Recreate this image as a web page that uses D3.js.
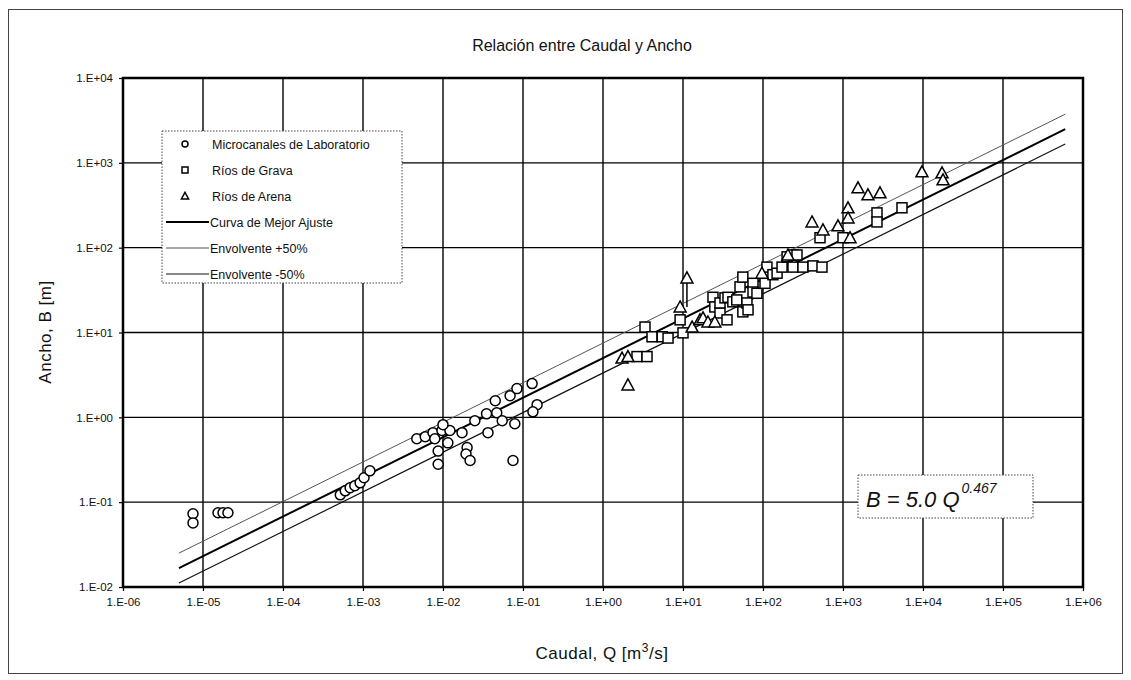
<!DOCTYPE html>
<html>
<head>
<meta charset="utf-8">
<script src="https://cdn.jsdelivr.net/npm/d3@7"></script>
<style>
  body { margin: 0; background: #fff; }
  svg { display: block; font-family: "Liberation Sans", Arial, sans-serif; }
</style>
</head>
<body>
<div id="chart"></div>
<script>
// tick values for both log axes
const xTicks = [1e-6, 1e-5, 1e-4, 1e-3, 1e-2, 1e-1, 1e0, 1e1, 1e2, 1e3, 1e4, 1e5, 1e6];
const yTicks = [1e-2, 1e-1, 1e0, 1e1, 1e2, 1e3, 1e4];

// Microcanales de Laboratorio [Q, B]
const micro = [
  [7.5e-6, 0.073], [7.5e-6, 0.057], [1.54e-5, 0.075], [1.78e-5, 0.075], [2.05e-5, 0.075],
  [5.2e-4, 0.122], [6.0e-4, 0.136], [6.9e-4, 0.148], [7.9e-4, 0.156], [9.2e-4, 0.169],
  [1.03e-3, 0.194], [1.22e-3, 0.234],
  [4.7e-3, 0.56], [6.0e-3, 0.59], [7.5e-3, 0.66], [7.9e-3, 0.56], [9.7e-3, 0.70],
  [1.22e-2, 0.70], [8.7e-3, 0.40], [8.7e-3, 0.28], [1.15e-2, 0.50], [1.0e-2, 0.82],
  [1.73e-2, 0.66], [2.0e-2, 0.44], [1.94e-2, 0.37], [2.18e-2, 0.31], [2.5e-2, 0.91],
  [3.5e-2, 1.10], [3.65e-2, 0.66], [4.5e-2, 1.57], [4.7e-2, 1.13], [5.5e-2, 0.91],
  [6.9e-2, 1.80], [8.4e-2, 2.18], [7.9e-2, 0.84], [7.5e-2, 0.31],
  [0.13, 2.5], [0.15, 1.41], [0.133, 1.16]
];

// Rios de Grava [Q, B]
const grava = [
  [2.66, 5.2], [3.55, 5.2], [3.35, 11.6], [4.1, 8.9], [5.5, 8.9], [6.5, 8.6],
  [9.2, 14.1], [10, 9.9], [23.7, 26], [25, 20], [29, 17], [29, 22.3], [33.5, 25.6],
  [35.5, 14.1], [36.5, 26], [42, 23], [47, 24.2], [51.6, 34.5], [56, 45], [56, 17.5],
  [63, 22.3], [65, 18.5], [75, 38], [75, 30], [84, 29], [106, 38], [112, 59],
  [133, 48], [150, 50], [173, 59], [200, 78], [237, 82], [266, 82], [237, 59],
  [316, 59], [422, 61], [546, 59], [516, 131], [1000, 131], [2660, 257], [2660, 201],
  [5460, 295]
];

// Rios de Arena [Q, B]
const arena = [
  [2.05, 2.41], [1.73, 5.0], [2.05, 5.2], [11.2, 44], [9.2, 20], [13, 11.6],
  [16.3, 14.1], [17.8, 14.9], [20.5, 13.3], [25, 13.3], [97, 50], [205, 82],
  [410, 201], [562, 162], [866, 181], [1155, 295], [1155, 224], [1223, 131],
  [1540, 507], [2050, 420], [2900, 443], [9700, 783], [17300, 762], [17800, 631]
];

// vertical bar under one sand point [Q, Bfrom, Bto]
const arenaBars = [[11.2, 20, 40]];

// best fit B = a Q^b and its envelopes
const fitCoef = 5.0;
const fitExp = 0.467;
const fitRange = [5e-6, 6e5];
const envelopes = [
  { name: "Curva de Mejor Ajuste", factor: 1, width: 2, color: "#000" },
  { name: "Envolvente +50%", factor: 1.5, width: 1, color: "#555" },
  { name: "Envolvente -50%", factor: 1 / 1.5, width: 1.2, color: "#111" }
];

const W = 1131, H = 680;
const m = { left: 123, right: 1083, top: 78, bottom: 587 };

const svg = d3.select("#chart").append("svg")
  .attr("width", W).attr("height", H);

// outer frame
svg.append("rect")
  .attr("x", 8.5).attr("y", 9.5).attr("width", 1114).attr("height", 664)
  .attr("fill", "none").attr("stroke", "#444").attr("stroke-width", 1);

let x = d3.scaleLog().domain([1e-6, 1e6]).range([m.left, m.right]);
let y = d3.scaleLog().domain([1e-2, 1e4]).range([m.bottom, m.top]);

const fmt = v => {
  const e = Math.round(Math.log10(v));
  return "1.E" + (e < 0 ? "-" : "+") + String(Math.abs(e)).padStart(2, "0");
};

// grid
svg.append("g").selectAll("line").data(xTicks.slice(1, -1)).enter().append("line")
  .attr("x1", d => x(d)).attr("x2", d => x(d))
  .attr("y1", m.top).attr("y2", m.bottom)
  .attr("stroke", "#000").attr("stroke-width", 1.4);
svg.append("g").selectAll("line").data(yTicks.slice(1, -1)).enter().append("line")
  .attr("y1", d => y(d)).attr("y2", d => y(d))
  .attr("x1", m.left).attr("x2", m.right)
  .attr("stroke", "#000").attr("stroke-width", 1.4);

// axes
const xAxis = svg.append("g")
  .attr("transform", `translate(0,${m.bottom})`)
  .call(d3.axisBottom(x).tickValues(xTicks).tickFormat(fmt).tickSize(4).tickPadding(7));
const yAxis = svg.append("g")
  .attr("transform", `translate(${m.left},0)`)
  .call(d3.axisLeft(y).tickValues(yTicks).tickFormat(fmt).tickSize(4).tickPadding(6));
[xAxis, yAxis].forEach(g => {
  g.select(".domain").remove();
  g.selectAll("line").attr("stroke", "#000").attr("stroke-width", 1.2);
  g.selectAll("text").attr("font-size", 11.5).attr("fill", "#111")
    .attr("font-family", "'Liberation Sans Narrow', 'Liberation Sans', Arial, sans-serif");
});

// plot border
svg.append("rect")
  .attr("x", m.left).attr("y", m.top)
  .attr("width", m.right - m.left).attr("height", m.bottom - m.top)
  .attr("fill", "none").attr("stroke", "#000").attr("stroke-width", 2.5);

// fit lines
const line = d3.line().x(d => x(d[0])).y(d => y(d[1]));
envelopes.forEach(env => {
  const pts = fitRange.map(q => [q, env.factor * fitCoef * Math.pow(q, fitExp)]);
  svg.append("path").datum(pts)
    .attr("d", line)
    .attr("fill", "none").attr("stroke", env.color).attr("stroke-width", env.width);
});

// markers
const circ = (sel) => sel.append("circle").attr("r", 5);
const sq = (sel) => sel.append("rect").attr("x", -5).attr("y", -5).attr("width", 10).attr("height", 10);
const tri = (sel) => sel.append("path").attr("d", "M0,-6L6,5L-6,5Z");

svg.append("g").selectAll("line").data(arenaBars).enter().append("line")
  .attr("x1", d => x(d[0])).attr("x2", d => x(d[0]))
  .attr("y1", d => y(d[1])).attr("y2", d => y(d[2]))
  .attr("stroke", "#000").attr("stroke-width", 1.5);

const series = [
  { data: micro, shape: circ },
  { data: grava, shape: sq },
  { data: arena, shape: tri }
];
series.forEach(s => {
  const g = svg.append("g").selectAll("g").data(s.data).enter().append("g")
    .attr("transform", d => `translate(${x(d[0])},${y(d[1])})`);
  s.shape(g).attr("fill", "#fff").attr("stroke", "#000").attr("stroke-width", 1.5);
});

// legend
const lg = svg.append("g").attr("transform", "translate(162,131)");
lg.append("rect").attr("width", 240).attr("height", 152)
  .attr("fill", "#fff").attr("stroke", "#444").attr("stroke-width", 1)
  .attr("stroke-dasharray", "1.5,1.5");
const legendItems = [
  { label: "Microcanales de Laboratorio", shape: circ },
  { label: "Ríos de Grava", shape: sq },
  { label: "Ríos de Arena", shape: tri }
].concat(envelopes.map(e => ({ label: e.name, env: e })));
legendItems.forEach((it, i) => {
  const row = lg.append("g").attr("transform", `translate(0,${13 + i * 26})`);
  if (it.shape) {
    const mk = row.append("g").attr("transform", "translate(23,0) scale(0.6)");
    it.shape(mk).attr("fill", "#fff").attr("stroke", "#000").attr("stroke-width", 2.5);
  } else {
    row.append("line").attr("x1", 4).attr("x2", 47).attr("y1", 0).attr("y2", 0)
      .attr("stroke", it.env.color).attr("stroke-width", it.env.width);
  }
  row.append("text").attr("x", it.shape ? 50 : 48).attr("y", 4.5)
    .attr("font-size", 12.5).attr("fill", "#111").text(it.label);
});

// equation box
const eq = svg.append("g").attr("transform", "translate(858,475)");
eq.append("rect").attr("width", 175).attr("height", 43)
  .attr("fill", "#fff").attr("stroke", "#444").attr("stroke-width", 1)
  .attr("stroke-dasharray", "1.5,1.5");
const eqText = eq.append("text").attr("x", 8).attr("y", 32)
  .attr("font-size", 22).attr("font-style", "italic").attr("fill", "#111");
eqText.append("tspan").text(`B = ${fitCoef.toFixed(1)} Q`);
eqText.append("tspan").attr("dy", -14).attr("dx", 2).attr("font-size", 14).text(String(fitExp));

// titles
svg.append("text").attr("x", 582).attr("y", 51).attr("text-anchor", "middle")
  .attr("font-size", 16).attr("fill", "#111").text("Relación entre Caudal y Ancho");

const xt = svg.append("text").attr("x", 602).attr("y", 659).attr("text-anchor", "middle")
  .attr("font-size", 17).attr("fill", "#111").attr("letter-spacing", 0.5);
xt.append("tspan").text("Caudal,  Q [m");
xt.append("tspan").attr("dy", -7).attr("font-size", 12).text("3");
xt.append("tspan").attr("dy", 7).text("/s]");

svg.append("text")
  .attr("transform", "translate(51,332) rotate(-90)")
  .attr("text-anchor", "middle").attr("font-size", 17).attr("fill", "#111")
  .attr("letter-spacing", 0.5)
  .text("Ancho,  B [m]");
</script>
</body>
</html>
